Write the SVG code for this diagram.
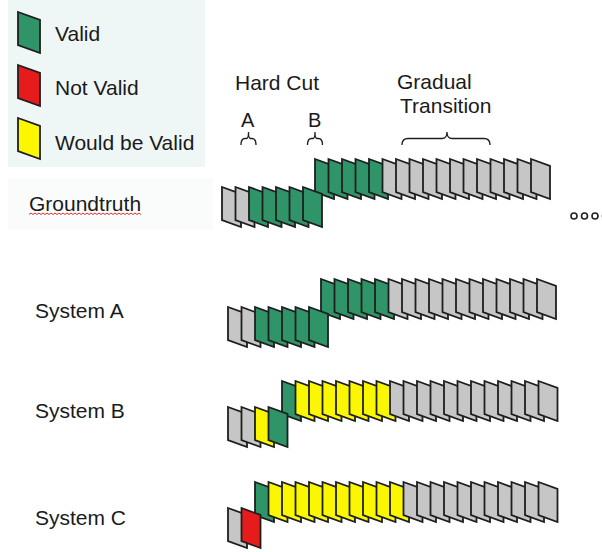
<svg xmlns="http://www.w3.org/2000/svg" xmlns:xlink="http://www.w3.org/1999/xlink" width="602" height="552" viewBox="0 0 602 552">
<style>
text{font-family:"Liberation Sans",Arial,sans-serif;font-size:21px;fill:#1a1a1a}
.g{fill:#c6c6c6}.v{fill:#2f9568}.y{fill:#fbf700}.r{fill:#e61c1c}
.fr{stroke:#1e1e1e;stroke-width:1.8;stroke-linejoin:miter}
.br{fill:none;stroke:#1e1e1e;stroke-width:1.3}
</style>
<defs>
<path id="f" class="fr" d="M0,0 L19,7 L19,40 L0,33 Z"/>
<path id="lf" class="fr" d="M0,0 L22,8 L22,41 L0,33 Z"/>
</defs>
<rect width="602" height="552" fill="#ffffff"/>
<g id="legend">
<rect x="8" y="0" width="197" height="167" fill="#eff6f6"/>
<use href="#lf" x="18" y="12" class="v"/>
<text x="55" y="41">Valid</text>
<use href="#lf" x="18" y="65" class="r"/>
<text x="55" y="95">Not Valid</text>
<use href="#lf" x="18" y="118" class="y"/>
<text x="55" y="150">Would be Valid</text>
</g>
<g id="headers">
<text x="235" y="90">Hard Cut</text>
<text x="241" y="127" style="font-size:20px">A</text>
<text x="308" y="127" style="font-size:20px">B</text>
<text x="397" y="89">Gradual</text>
<text x="400" y="113">Transition</text>
</g>
<g id="braces">
<path class="br" d="M241,145 Q241,138.5 245,138.5 L246.5,138.5 Q248.5,138.5 248.5,132 Q248.5,138.5 250.5,138.5 L252,138.5 Q256,138.5 256,145"/>
<path class="br" d="M307.5,145 Q307.5,138.5 311.5,138.5 L313,138.5 Q315,138.5 315,132 Q315,138.5 317,138.5 L318.5,138.5 Q322.5,138.5 322.5,145"/>
<path class="br" d="M402,145 Q402,138.5 408,138.5 L442,138.5 Q447,138.5 447,132 Q447,138.5 452,138.5 L484,138.5 Q490,138.5 490,145"/>
</g>
<g id="groundtruth">
<rect x="8" y="178" width="205" height="52" fill="#fafcfc"/>
<text x="29" y="211">Groundtruth</text>
<path d="M29,214.5 l2,-1.5 l2,1.5 l2,-1.5 l2,1.5 l2,-1.5 l2,1.5 l2,-1.5 l2,1.5 l2,-1.5 l2,1.5 l2,-1.5 l2,1.5 l2,-1.5 l2,1.5 l2,-1.5 l2,1.5 l2,-1.5 l2,1.5 l2,-1.5 l2,1.5 l2,-1.5 l2,1.5 l2,-1.5 l2,1.5 l2,-1.5 l2,1.5 l2,-1.5 l2,1.5 l2,-1.5 l2,1.5 l2,-1.5 l2,1.5 l2,-1.5 l2,1.5 l2,-1.5 l2,1.5 l2,-1.5 l2,1.5 l2,-1.5 l2,1.5 l2,-1.5 l2,1.5 l2,-1.5 l2,1.5 l2,-1.5 l2,1.5 l2,-1.5 l2,1.5 l2,-1.5 l2,1.5 l2,-1.5 l2,1.5 l2,-1.5 l2,1.5 l2,-1.5 l2,1.5" fill="none" stroke="#d83030" stroke-width="1"/>
<g id="gt-upper">
<use href="#f" x="315" y="159" class="v"/><use href="#f" x="328.5" y="159" class="v"/><use href="#f" x="342" y="159" class="v"/><use href="#f" x="355.5" y="159" class="v"/><use href="#f" x="369" y="159" class="v"/>
<use href="#f" x="382.5" y="159" class="g"/><use href="#f" x="396" y="159" class="g"/><use href="#f" x="409.5" y="159" class="g"/><use href="#f" x="423" y="159" class="g"/><use href="#f" x="436.5" y="159" class="g"/><use href="#f" x="450" y="159" class="g"/><use href="#f" x="463.5" y="159" class="g"/><use href="#f" x="477" y="159" class="g"/><use href="#f" x="490.5" y="159" class="g"/><use href="#f" x="504" y="159" class="g"/><use href="#f" x="517.5" y="159" class="g"/><use href="#f" x="531" y="159" class="g"/>
</g>
<g id="gt-lower">
<use href="#f" x="222" y="187" class="g"/><use href="#f" x="235.5" y="187" class="g"/>
<use href="#f" x="249" y="187" class="v"/><use href="#f" x="262.5" y="187" class="v"/><use href="#f" x="276" y="187" class="v"/><use href="#f" x="289.5" y="187" class="v"/><use href="#f" x="303" y="187" class="v"/>
</g>
<g id="ellipsis" fill="none" stroke="#222" stroke-width="1.6">
<circle cx="574" cy="216" r="3"/><circle cx="584.5" cy="216" r="3"/><circle cx="595" cy="216" r="3"/><circle cx="605.5" cy="216" r="3"/>
</g>
</g>
<g id="systemA">
<text x="35" y="318">System A</text>
<use href="#f" x="321" y="279" class="v"/><use href="#f" x="334.5" y="279" class="v"/><use href="#f" x="348" y="279" class="v"/><use href="#f" x="361.5" y="279" class="v"/><use href="#f" x="375" y="279" class="v"/>
<use href="#f" x="388.5" y="279" class="g"/><use href="#f" x="402" y="279" class="g"/><use href="#f" x="415.5" y="279" class="g"/><use href="#f" x="429" y="279" class="g"/><use href="#f" x="442.5" y="279" class="g"/><use href="#f" x="456" y="279" class="g"/><use href="#f" x="469.5" y="279" class="g"/><use href="#f" x="483" y="279" class="g"/><use href="#f" x="496.5" y="279" class="g"/><use href="#f" x="510" y="279" class="g"/><use href="#f" x="523.5" y="279" class="g"/><use href="#f" x="537" y="279" class="g"/>
<use href="#f" x="228" y="307" class="g"/><use href="#f" x="241.5" y="307" class="g"/>
<use href="#f" x="255" y="307" class="v"/><use href="#f" x="268.5" y="307" class="v"/><use href="#f" x="282" y="307" class="v"/><use href="#f" x="295.5" y="307" class="v"/><use href="#f" x="309" y="307" class="v"/>
</g>
<g id="systemB">
<text x="35" y="418">System B</text>
<use href="#f" x="282" y="381" class="v"/>
<use href="#f" x="295.5" y="381" class="y"/><use href="#f" x="309" y="381" class="y"/><use href="#f" x="322.5" y="381" class="y"/><use href="#f" x="336" y="381" class="y"/><use href="#f" x="349.5" y="381" class="y"/><use href="#f" x="363" y="381" class="y"/><use href="#f" x="376.5" y="381" class="y"/>
<use href="#f" x="390" y="381" class="g"/><use href="#f" x="403.5" y="381" class="g"/><use href="#f" x="417" y="381" class="g"/><use href="#f" x="430.5" y="381" class="g"/><use href="#f" x="444" y="381" class="g"/><use href="#f" x="457.5" y="381" class="g"/><use href="#f" x="471" y="381" class="g"/><use href="#f" x="484.5" y="381" class="g"/><use href="#f" x="498" y="381" class="g"/><use href="#f" x="511.5" y="381" class="g"/><use href="#f" x="525" y="381" class="g"/><use href="#f" x="538.5" y="381" class="g"/>
<use href="#f" x="228" y="407" class="g"/><use href="#f" x="241.5" y="407" class="g"/><use href="#f" x="255" y="407" class="y"/><use href="#f" x="268.5" y="407" class="v"/>
</g>
<g id="systemC">
<text x="35" y="525">System C</text>
<use href="#f" x="255" y="482" class="v"/>
<use href="#f" x="268.5" y="482" class="y"/><use href="#f" x="282" y="482" class="y"/><use href="#f" x="295.5" y="482" class="y"/><use href="#f" x="309" y="482" class="y"/><use href="#f" x="322.5" y="482" class="y"/><use href="#f" x="336" y="482" class="y"/><use href="#f" x="349.5" y="482" class="y"/><use href="#f" x="363" y="482" class="y"/><use href="#f" x="376.5" y="482" class="y"/><use href="#f" x="390" y="482" class="y"/>
<use href="#f" x="403.5" y="482" class="g"/><use href="#f" x="417" y="482" class="g"/><use href="#f" x="430.5" y="482" class="g"/><use href="#f" x="444" y="482" class="g"/><use href="#f" x="457.5" y="482" class="g"/><use href="#f" x="471" y="482" class="g"/><use href="#f" x="484.5" y="482" class="g"/><use href="#f" x="498" y="482" class="g"/><use href="#f" x="511.5" y="482" class="g"/><use href="#f" x="525" y="482" class="g"/><use href="#f" x="538.5" y="482" class="g"/>
<use href="#f" x="228" y="508" class="g"/><use href="#f" x="241.5" y="508" class="r"/>
</g>
</svg>
